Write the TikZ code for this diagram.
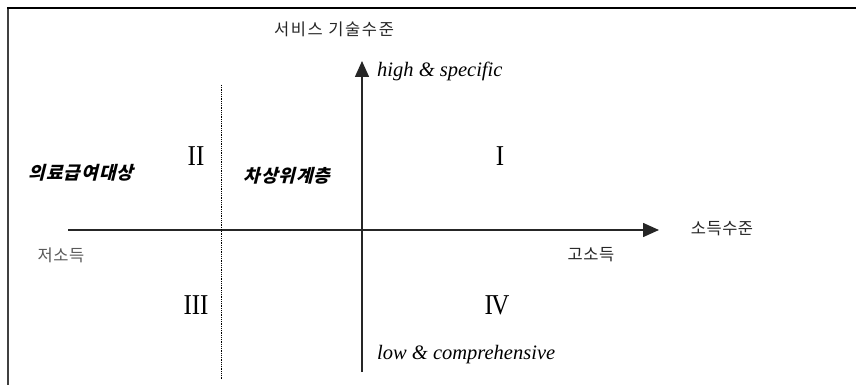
\documentclass[tikz,border=0pt]{standalone}
\usepackage{fontspec}
\setmainfont{Liberation Serif}
\newfontfamily\kr{Noto Sans CJK KR}[LetterSpace=3]
\newfontfamily\krw{Noto Sans CJK KR}[LetterSpace=10]
\newfontfamily\krbi{Noto Sans CJK KR}[FakeSlant=0.25,LetterSpace=6]
\usetikzlibrary{arrows.meta}
\begin{document}
\begin{tikzpicture}[x=1pt,y=-1pt,
  kr/.style={font=\kr\fontsize{16.5}{19}\selectfont, text=black!85, inner sep=0pt},
  krbold/.style={font=\krbi\bfseries\fontsize{18}{21}\selectfont, inner sep=0pt},
  en/.style={font=\itshape\fontsize{20.5}{23}\selectfont, inner sep=0pt, anchor=west},
  num/.style={font=\fontsize{25}{27}\selectfont, inner sep=0pt, yscale=1.15},
  axis/.style={line width=1.5pt, draw=black!85, -{Triangle[length=16pt,width=14pt]}}]
\useasboundingbox (0,0) rectangle (856,385);
% frame
\draw[line width=2.2pt, draw=black!75] (8,385) -- (8,7);
\draw[line width=2.2pt] (7,8) -- (856,8);
% axes
\coordinate (vbot) at (362,372);
\coordinate (vtop) at (362,61);
\coordinate (hleft) at (68,230);
\coordinate (hright) at (659,230);
\coordinate (dtop) at (221,85);
\coordinate (dbot) at (221,380);
\draw[axis] (vbot) -- (vtop);
\draw[axis] (hleft) -- (hright);
\draw[densely dotted, line width=0.8pt] (dtop) -- (dbot);
% labels
\node[font=\krw\fontsize{16.5}{19}\selectfont, text=black!85, inner sep=0pt] (ylab) at (334,29) {서비스 기술수준};
\node[en] (high) at (377,71) {high \& specific};
\node[en] (low) at (377,355) {low \& comprehensive};
\node[kr] (xlab) at (722,229) {소득수준};
\node[kr, text=black!65] (lowinc) at (61,255) {저소득};
\node[kr] (highinc) at (591,255) {고소득};
\node[krbold] (medaid) at (81,173) {의료급여대상};
\node[krbold] (nearpoor) at (287,176) {차상위계층};
% quadrant numerals
\node[num] (q2) at (196,156) {II};
\node[num] (q1) at (500,156) {I};
\node[num] (q3) at (196,305) {III};
\node[num] (q4) at (497,305) {I\kern-1.5pt V};
\end{tikzpicture}
\end{document}
